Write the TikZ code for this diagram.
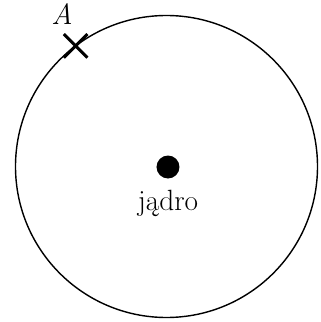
\documentclass[tikz,border=0pt]{standalone}
\usepackage{tikz}
\usetikzlibrary{positioning}
\usetikzlibrary{shapes.misc}
\usetikzlibrary{calc}

\begin{document}
\begin{tikzpicture}
\tikzset{orbit/.style={draw=black,line width=1.2pt},
         marker/.style={cross out,draw=black,line width=2.5pt,minimum size=0.62cm,inner sep=0pt},
         lbl/.style={font=\fontsize{25}{30}\selectfont,text=black,inner sep=0pt}}
\useasboundingbox (0,0) rectangle (9.6,9.66);
\coordinate (O) at (4.995,4.665);
\draw[orbit] (O) circle (4.53);
\node[fill=black,circle,minimum size=0.69cm,inner sep=0pt] (nucleus) at (5.04,4.65) {};
\node[lbl,below=0.34cm of nucleus] (label) {jądro};
\node[marker] (A) at ($(O)+(127:4.53)$) {};
\node[lbl,anchor=base] (Alabel) at (1.86,8.91) {\itshape A};
\end{tikzpicture}
\end{document}
